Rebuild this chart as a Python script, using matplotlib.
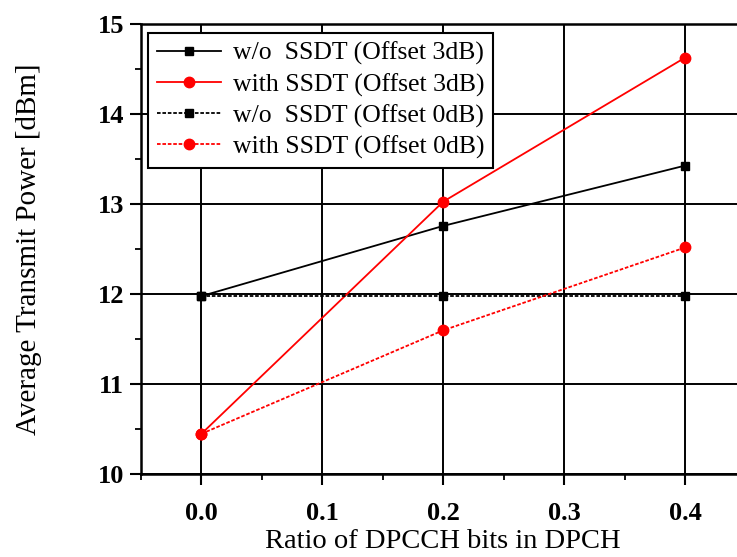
import matplotlib
matplotlib.use("Agg")
import matplotlib.pyplot as plt
from matplotlib.ticker import MultipleLocator

x = [0.0, 0.2, 0.4]
wo_ssdt_3db = [11.98, 12.76, 13.43]
with_ssdt_3db = [10.45, 13.03, 14.63]
wo_ssdt_0db = [11.98, 11.98, 11.98]
with_ssdt_0db = [10.45, 11.60, 12.52]
labels = ["w/o  SSDT (Offset 3dB)", "with SSDT (Offset 3dB)",
          "w/o  SSDT (Offset 0dB)", "with SSDT (Offset 0dB)"]
xticks = [0.0, 0.1, 0.2, 0.3, 0.4]
xticklabels = ["0.0", "0.1", "0.2", "0.3", "0.4"]
yticks = [10, 11, 12, 13, 14, 15]

plt.rcParams['font.family'] = ['Liberation Serif', 'DejaVu Serif']

fig = plt.figure(figsize=(7.37, 5.57), dpi=100)
ax = fig.add_axes([0.1913, 0.1485, 0.8204, 0.8079])

ax.plot(x, wo_ssdt_3db, color='black', lw=1.3, marker='s', ms=5.5,
        mfc='black', mec='black', label=labels[0], zorder=3)
ax.plot(x, with_ssdt_3db, color='red', lw=1.3, marker='o', ms=7.5,
        mfc='red', mec='red', label=labels[1], zorder=3)
ax.plot(x, wo_ssdt_0db, color='black', lw=1.3, ls=(0, (2, 1)), marker='s', ms=5.5,
        mfc='black', mec='black', label=labels[2], zorder=3)
ax.plot(x, with_ssdt_0db, color='red', lw=1.3, ls=(0, (2, 1)), marker='o', ms=7.5,
        mfc='red', mec='red', label=labels[3], zorder=3)

ax.set_xlim(-0.05, 0.45)
ax.set_ylim(10, 15)
ax.set_xticks(xticks)
ax.set_xticklabels(xticklabels)
ax.set_yticks(yticks)
ax.xaxis.set_minor_locator(MultipleLocator(0.05))
ax.yaxis.set_minor_locator(MultipleLocator(0.5))

ax.grid(True, which='major', color='black', lw=1.4)
ax.set_axisbelow(True)
for s in ax.spines.values():
    s.set_linewidth(1.8)

ax.tick_params(which='major', direction='out', length=8, width=1.5,
               labelsize=19, pad=4)
ax.tick_params(which='minor', direction='out', length=4, width=1.3)
for t in ax.get_xticklabels() + ax.get_yticklabels():
    t.set_fontweight('bold')
ax.tick_params(axis='x', pad=12)

ax.set_xlabel("Ratio of DPCCH bits in DPCH", fontsize=20.5, labelpad=3)
ax.set_ylabel("Average Transmit Power [dBm]", fontsize=21, labelpad=40)

leg = ax.legend(loc='upper left', bbox_to_anchor=(148/737, 1-33/557),
                bbox_transform=fig.transFigure, fontsize=18.5, frameon=True,
                fancybox=False, edgecolor='black', framealpha=1,
                handlelength=2.5, handletextpad=0.45, labelspacing=0.3,
                borderpad=0.35, borderaxespad=0)
leg.get_frame().set_linewidth(1.5)

fig.savefig("out.png", dpi=100)
